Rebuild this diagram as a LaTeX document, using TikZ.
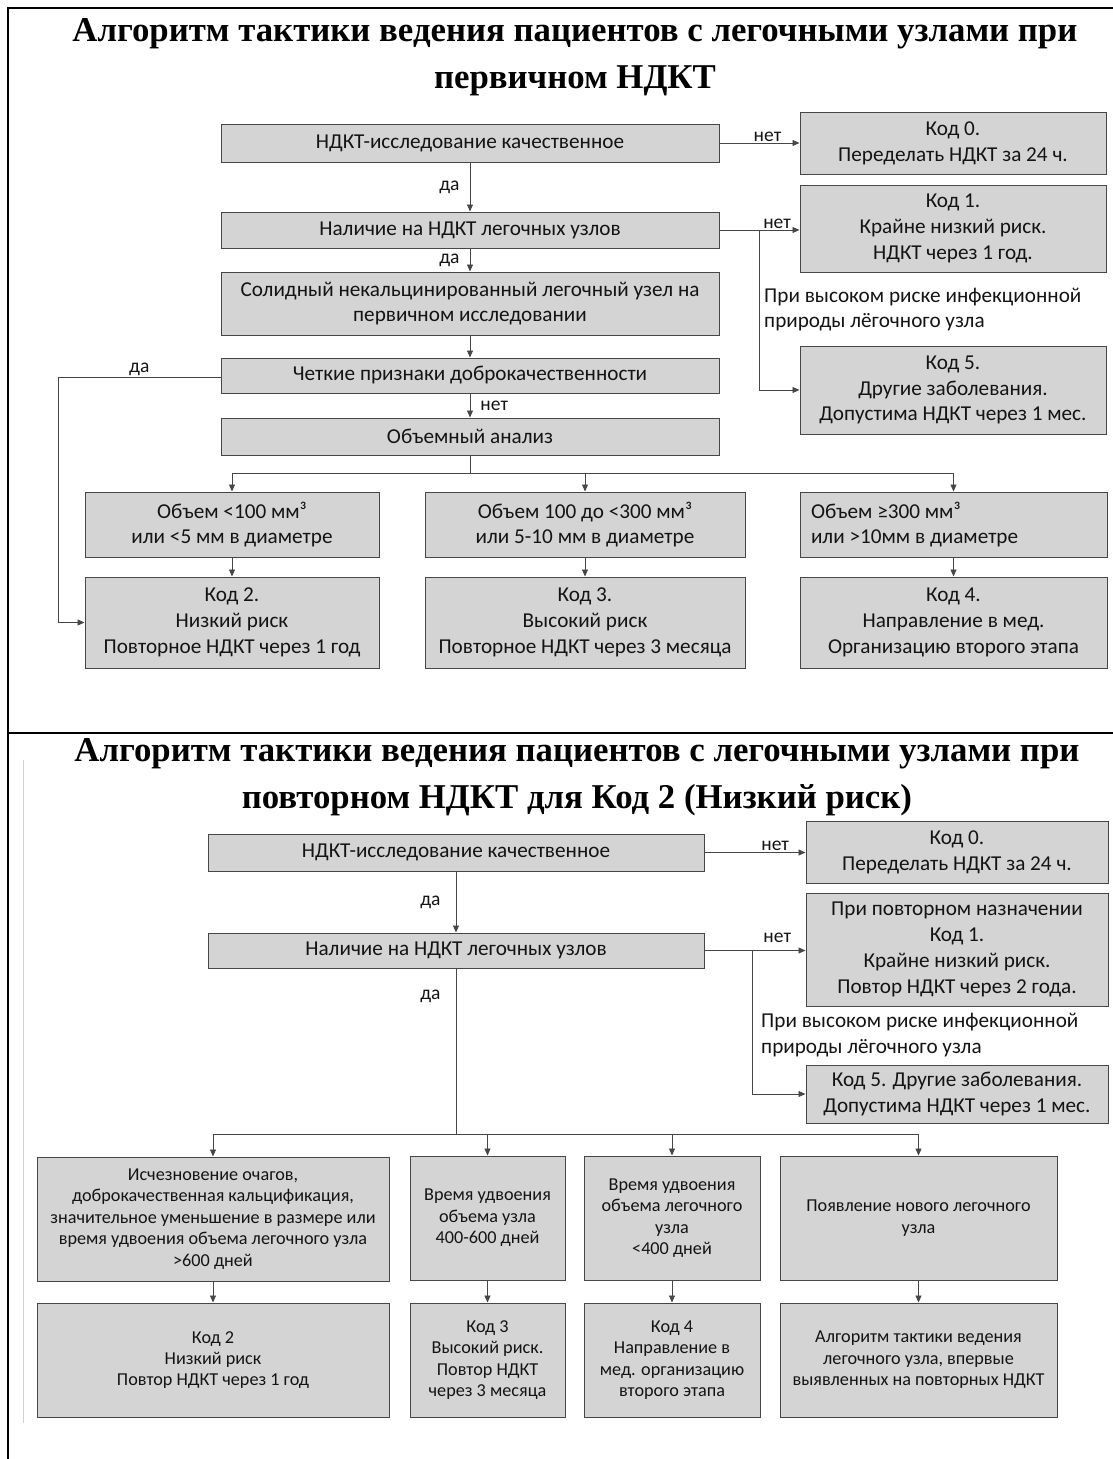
\documentclass[tikz,border=0pt]{standalone}
\usepackage{fontspec}
\setmainfont{Carlito}
\newfontfamily\titlefont{Liberation Serif}
\usepackage{tikz}
\usetikzlibrary{arrows.meta, positioning, calc}
\definecolor{boxgray}{RGB}{212,212,212}
\definecolor{edgegray}{RGB}{70,70,70}
\definecolor{inkgray}{RGB}{20,20,20}
\tikzset{block/.style={draw=edgegray,fill=boxgray,line width=1pt,inner sep=0pt,
        align=center,text=inkgray,font=\fontsize{21.2}{25.8}\selectfont},
    small block/.style={block,font=\fontsize{18.2}{21.4}\selectfont},
    flow/.style={draw=edgegray,line width=0.9pt,-{Triangle[length=7pt,width=6pt]}},
    link/.style={draw=edgegray,line width=0.9pt},
    answer/.style={text=inkgray,inner sep=1pt,font=\fontsize{19.5}{22}\selectfont},
    note/.style={align=left,text=inkgray,inner sep=0pt,font=\fontsize{21.2}{25.5}\selectfont},
    heading/.style={align=center,text=black,font=\titlefont\bfseries\fontsize{34.8}{47}\selectfont}}

\begin{document}
\begin{tikzpicture}[x=1pt,y=-1pt]
    \useasboundingbox (0,0) rectangle (1113,1459);
    % Frame and divider
    \draw[line width=1.4pt] (8,1459) -- (8,8) -- (1113,8);
    \draw[line width=1.4pt] (8,733) -- (1113,733);
    \draw[black!18, line width=0.8pt] (23,760) -- (23,1423);

    % Titles
    \node[heading] (title1) at (575,57.5)
        {Алгоритм тактики ведения пациентов с легочными узлами при\\первичном НДКТ};
    \node[heading] (title2) at (577,777.5)
        {Алгоритм тактики ведения пациентов с легочными узлами при\\повторном НДКТ для Код 2 (Низкий риск)};

    % Primary scan: main column
    \node[block, minimum width=498pt, minimum height=38pt] (nqual) at (470,143)
        {НДКТ-исследование качественное};
    \node[block, minimum width=498pt, minimum height=36pt] (nnod) at (470,230)
        {Наличие на НДКТ легочных узлов};
    \node[block, minimum width=498pt, minimum height=63pt] (nsolid) at (470,303.5)
        {Солидный некальцинированный легочный узел на\\первичном исследовании};
    \node[block, minimum width=498pt, minimum height=35pt] (nbenign) at (470,375.5)
        {Четкие признаки доброкачественности};
    \node[block, minimum width=498pt, minimum height=37pt] (nvol) at (470,436.5)
        {Объемный анализ};

    % Primary scan: codes on the right
    \node[block, minimum width=306pt, minimum height=62pt] (code0) at (953,143)
        {Код 0.\\Переделать НДКТ за 24 ч.};
    \node[block, minimum width=306pt, minimum height=87pt] (code1) at (953,228.5)
        {Код 1.\\Крайне низкий риск.\\НДКТ через 1 год.};
    \node[note, anchor=west] (infect1) at (764,309.5)
        {При высоком риске инфекционной\\природы лёгочного узла};
    \node[block, minimum width=306pt, minimum height=88pt] (code5) at (953,390)
        {Код 5.\\Другие заболевания.\\Допустима НДКТ через 1 мес.};

    % Primary scan: volume classes and outcomes
    \node[block, minimum width=294pt, minimum height=65pt] (vsmall) at (232,524.5)
        {Объем <100 мм³\\или <5 мм в диаметре};
    \node[block, minimum width=320pt, minimum height=65pt] (vmid) at (585,524.5)
        {Объем 100 до <300 мм³\\или 5-10 мм в диаметре};
    \node[block, align=flush left, text width=285pt, inner xsep=11pt, minimum height=65pt]
        (vlarge) at (953.5,524.5) {Объем ≥300 мм³\\или >10мм в диаметре};
    \node[block, minimum width=294pt, minimum height=91pt] (code2) at (232,622.5)
        {Код 2.\\Низкий риск\\Повторное НДКТ через 1 год};
    \node[block, minimum width=320pt, minimum height=91pt] (code3) at (585,622.5)
        {Код 3.\\Высокий риск\\Повторное НДКТ через 3 месяца};
    \node[block, minimum width=307pt, minimum height=91pt] (code4) at (953.5,622.5)
        {Код 4.\\Направление в мед.\\Организацию второго этапа};

    % Primary scan: connectors
    \coordinate (fork1) at (759,230);
    \coordinate (yesleft) at (58,377);
    \coordinate (vsplit) at (470,473);
    \draw[flow] (nqual.east) -- node[answer, above, pos=0.6] {нет} (nqual.east -| code0.west);
    \draw[flow] (nqual) -- node[answer, left=9pt] {да} (nnod);
    \draw[flow] (nnod.east) -- node[answer, above, pos=0.72] {нет} (nnod.east -| code1.west);
    \draw[flow] (fork1) |- (code5.west);
    \draw[flow] (nnod) -- node[answer, left=9pt] {да} (nsolid);
    \draw[flow] (nsolid) -- (nbenign);
    \draw[flow] (nbenign) -- node[answer, right=9pt] {нет} (nvol);
    \draw[flow] (nbenign.west |- yesleft) -- node[answer, above, pos=0.5] {да} (yesleft)
        |- (code2.west);
    \draw[link] (nvol) -- (vsplit);
    \draw[flow] (vsplit) -| (vsmall);
    \draw[flow] (vsplit) -| (vmid);
    \draw[flow] (vsplit) -| (vlarge);
    \draw[flow] (vsmall) -- (code2);
    \draw[flow] (vmid) -- (code3);
    \draw[flow] (vlarge) -- (code4);

    % Repeat scan: main column
    \node[block, minimum width=496pt, minimum height=37pt] (rqual) at (456,852.5)
        {НДКТ-исследование качественное};
    \node[block, minimum width=496pt, minimum height=35pt] (rnod) at (456,950.5)
        {Наличие на НДКТ легочных узлов};

    % Repeat scan: codes on the right
    \node[block, minimum width=302pt, minimum height=62pt] (rcode0) at (957,852.5)
        {Код 0.\\Переделать НДКТ за 24 ч.};
    \node[block, minimum width=302pt, minimum height=113pt] (rcode1) at (957,949.5)
        {При повторном назначении\\Код 1.\\Крайне низкий риск.\\Повтор НДКТ через 2 года.};
    \node[note, anchor=west] (infect2) at (761,1035)
        {При высоком риске инфекционной\\природы лёгочного узла};
    \node[block, minimum width=302pt, minimum height=58pt] (rcode5) at (957,1094)
        {Код 5. Другие заболевания.\\Допустима НДКТ через 1 мес.};

    % Repeat scan: findings and outcomes
    \node[small block, minimum width=352pt, minimum height=124pt] (rgone) at (213,1219)
        {Исчезновение очагов,\\доброкачественная кальцификация,\\значительное уменьшение в размере или\\время удвоения объема легочного узла\\>600 дней};
    \node[small block, minimum width=155pt, minimum height=124pt] (rslow) at (487.5,1218)
        {Время удвоения\\объема узла\\400-600 дней};
    \node[small block, minimum width=176pt, minimum height=124pt] (rfast) at (672,1218)
        {Время удвоения\\объема легочного\\узла\\<400 дней};
    \node[small block, minimum width=277pt, minimum height=124pt] (rnew) at (918.5,1218)
        {Появление нового легочного\\узла};
    \node[small block, minimum width=352pt, minimum height=114pt] (rcode2) at (213,1360)
        {Код 2\\Низкий риск\\Повтор НДКТ через 1 год};
    \node[small block, minimum width=155pt, minimum height=114pt] (rcode3) at (487.5,1360)
        {Код 3\\Высокий риск.\\Повтор НДКТ\\через 3 месяца};
    \node[small block, minimum width=176pt, minimum height=114pt] (rcode4) at (672,1360)
        {Код 4\\Направление в\\мед. организацию\\второго этапа};
    \node[small block, minimum width=277pt, minimum height=114pt] (ralgo) at (918.5,1360)
        {Алгоритм тактики ведения\\легочного узла, впервые\\выявленных на повторных НДКТ};

    % Repeat scan: connectors
    \coordinate (fork2) at (752,950.5);
    \coordinate (rsplit) at (456,1134);
    \draw[flow] (rqual.east) -- node[answer, above, pos=0.7] {нет} (rqual.east -| rcode0.west);
    \draw[flow] (rqual) -- node[answer, left=14pt] {да} (rnod);
    \draw[flow] (rnod.east) -- node[answer, above=6pt, pos=0.72] {нет} (rnod.east -| rcode1.west);
    \draw[flow] (fork2) |- (rcode5.west);
    \draw[link] (rnod) -- node[answer, left=14pt, pos=0.17] {да} (rsplit);
    \draw[flow] (rsplit) -| (rgone);
    \draw[flow] (rsplit) -| (rslow);
    \draw[flow] (rsplit) -| (rfast);
    \draw[flow] (rsplit) -| (rnew);
    \draw[flow] (rgone) -- (rcode2);
    \draw[flow] (rslow) -- (rcode3);
    \draw[flow] (rfast) -- (rcode4);
    \draw[flow] (rnew) -- (ralgo);
\end{tikzpicture}
\end{document}
